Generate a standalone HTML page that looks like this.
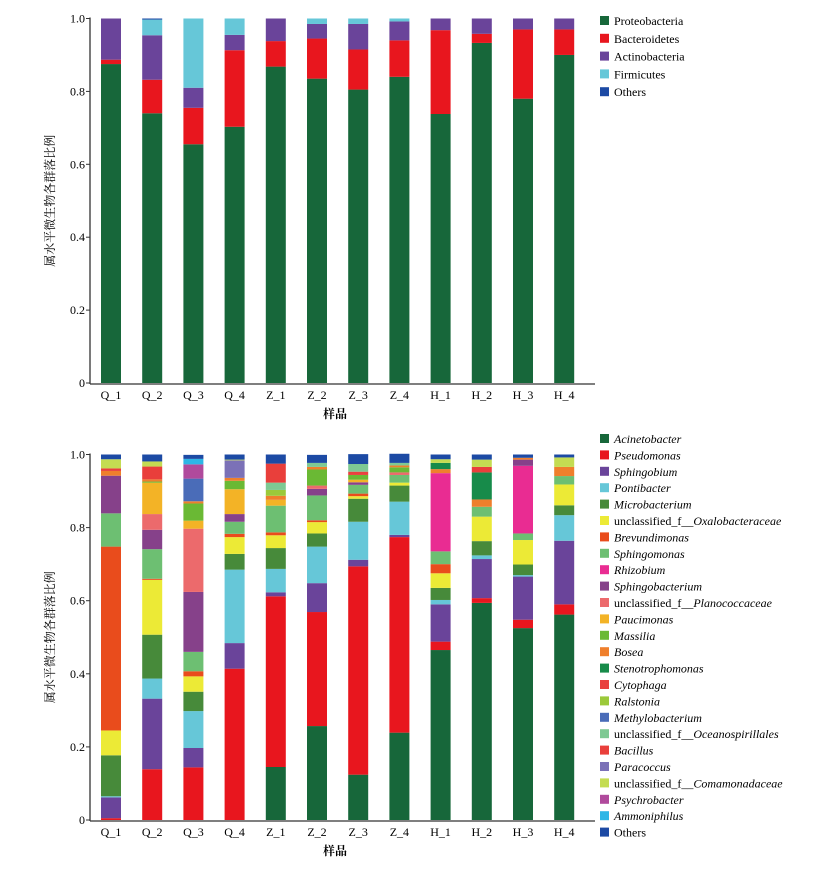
<!DOCTYPE html>
<html><head><meta charset="utf-8"><style>
body{margin:0;background:#fff;}
svg text{font-family:"Liberation Serif","Noto Serif CJK SC",serif;}
</style></head><body>
<svg id="c" width="832" height="869" xmlns="http://www.w3.org/2000/svg"></svg>
<script>
const samples=["Q_1","Q_2","Q_3","Q_4","Z_1","Z_2","Z_3","Z_4","H_1","H_2","H_3","H_4"];
const yTicks=[0,0.2,0.4,0.6,0.8,1.0];
const yTickLabels=["0","0.2","0.4","0.6","0.8","1.0"];
// Top chart (phylum)
const phyla=["Proteobacteria","Bacteroidetes","Actinobacteria","Firmicutes","Others"];
const phylaColors=["#17673a","#e8161e","#6a449a","#66c7d8","#1c4aa4"];
const proteobacteria=[.875,.74,.655,.703,.868,.835,.805,.84,.738,.933,.78,.90];
const bacteroidetes=[.012,.092,.1,.21,.07,.11,.11,.1,.23,.025,.19,.07];
const actinobacteria=[.113,.122,.055,.042,.062,.04,.07,.052,.032,.042,.03,.03];
const firmicutes=[0,.043,.19,.045,0,.015,.015,.008,0,0,0,0];
const phylaOthers=[0,.003,0,0,0,0,0,0,0,0,0,0];
const topSeries=[proteobacteria,bacteroidetes,actinobacteria,firmicutes,phylaOthers];
// Bottom chart (genus)
const genera=["Acinetobacter","Pseudomonas","Sphingobium","Pontibacter","Microbacterium","unclassified_f__Oxalobacteraceae","Brevundimonas","Sphingomonas","Rhizobium","Sphingobacterium","unclassified_f__Planococcaceae","Paucimonas","Massilia","Bosea","Stenotrophomonas","Cytophaga","Ralstonia","Methylobacterium","unclassified_f__Oceanospirillales","Bacillus","Paracoccus","unclassified_f__Comamonadaceae","Psychrobacter","Ammoniphilus","Others"];
const genusColors=["#17673a","#e8161e","#6a449a","#66c7d8","#478a3a","#ecea36","#e94c1c","#6dbf72","#e92c92","#86418a","#ec6a6c","#f3b326","#6ab934","#ef7f2c","#178b4a","#e9413f","#9bc93a","#4a6cb8","#7ec993","#e93f3b","#7b71b7","#c4dc52","#b04a9c","#2eb6e6","#1c4aa4"];
const acinetobacter=[0,0,0,0,.145,.257,.124,.239,.465,.594,.525,.562];
const pseudomonas=[.005,.139,.144,.414,.467,.312,.57,.535,.023,.013,.023,.028];
const sphingobium=[.057,.193,.053,.07,.011,.079,.018,.006,.102,.107,.118,.174];
const pontibacter=[.003,.055,.101,.201,.064,.1,.104,.091,.012,.01,.004,.07];
const microbacterium=[.112,.12,.053,.043,.057,.036,.063,.044,.033,.039,.029,.027];
const oxalobacteraceae=[.068,.15,.042,.046,.035,.031,.007,.008,.04,.067,.067,.057];
const brevundimonas=[.503,.003,.014,.009,.008,.005,.007,0,.025,0,0,0];
const sphingomonas=[.091,.081,.053,.033,.073,.068,.024,.021,.035,.027,.018,.023];
const rhizobium=[0,0,0,0,0,0,0,0,.214,0,.185,0];
const sphingobacterium=[.103,.053,.164,.021,0,.018,.007,0,0,0,.017,0];
const planococcaceae=[0,.043,.173,0,0,.009,0,.007,0,0,0,0];
const paucimonas=[0,.086,.022,.068,.016,0,.007,0,0,0,0,0];
const massilia=[0,.003,.047,.023,0,.044,.013,.014,0,0,0,0];
const bosea=[.013,.006,.006,.008,.011,.007,0,.005,.011,.02,.005,.025];
const stenotrophomonas=[0,0,0,0,0,0,0,0,.017,.074,0,0];
const cytophaga=[0,0,0,0,0,0,.009,0,0,0,0,0];
const ralstonia=[0,0,0,0,.016,0,0,0,0,0,0,0];
const methylobacterium=[0,0,.062,0,0,0,0,0,0,0,0,0];
const oceanospirillales=[0,0,0,0,.02,.011,.021,.007,0,0,0,0];
const bacillus=[.007,.035,0,0,.052,0,0,0,0,.015,0,0];
const paracoccus=[0,0,0,.048,0,0,0,0,0,0,0,0];
const comamonadaceae=[.025,.014,0,.002,0,0,0,0,.01,.02,0,.026];
const psychrobacter=[0,0,.039,0,0,0,0,0,0,0,0,0];
const ammoniphilus=[0,0,.015,0,0,0,0,0,0,0,0,0];
const genusOthers=[.013,.019,.011,.014,.025,.022,.027,.025,.013,.014,.009,.008];
const bottomSeries=[acinetobacter,pseudomonas,sphingobium,pontibacter,microbacterium,oxalobacteraceae,brevundimonas,sphingomonas,rhizobium,sphingobacterium,planococcaceae,paucimonas,massilia,bosea,stenotrophomonas,cytophaga,ralstonia,methylobacterium,oceanospirillales,bacillus,paracoccus,comamonadaceae,psychrobacter,ammoniphilus,genusOthers];

const NS="http://www.w3.org/2000/svg";
const svg=document.getElementById('c');
function mk(tag,attrs,parent){const e=document.createElementNS(NS,tag);for(const k in attrs)e.setAttribute(k,attrs[k]);(parent||svg).appendChild(e);return e;}
const xScale=i=>111+i*41.2;

function drawChart(top,bottom,barW,series,colors,names,legTop,legStep,italic,prefix){
  const g=mk('g',{});
  
  
  const yS=v=>bottom-v*(bottom-top);
  samples.forEach((s,i)=>{
    let cum=0;
    series.forEach((arr,k)=>{
      const v=arr[i]; if(v<=0){return;}
      const r=mk('rect',{x:xScale(i)-barW/2,y:yS(cum+v),width:barW,height:yS(cum)-yS(cum+v),fill:colors[k]},g);
      
      
      cum+=v;
    });
  });
  const ya=mk('line',{x1:90,y1:top-1,x2:90,y2:bottom+1,stroke:'#333','stroke-width':1.3},g);
  
  
  const xa=mk('line',{x1:90,y1:bottom+1,x2:595,y2:bottom+1,stroke:'#333','stroke-width':1.3},g);
  
  
  yTicks.forEach((t,j)=>{
    mk('line',{x1:86,y1:yS(t),x2:90,y2:yS(t),stroke:'#333'},g);
    const tx=mk('text',{x:85,y:yS(t)+4,'text-anchor':'end','font-size':12},g);
    tx.textContent=yTickLabels[j];
    
    
  });
  samples.forEach((s,i)=>{
    const tx=mk('text',{x:xScale(i),y:bottom+16,'text-anchor':'middle','font-size':12},g);
    tx.textContent=s;
    
    
  });
  const xt=mk('text',{x:335,y:bottom+35,'text-anchor':'middle','font-size':12,'font-weight':'bold'},g);
  xt.textContent='样品';
  
  
  const cy=(top+bottom)/2;
  const yt=mk('text',{x:54,y:cy,'text-anchor':'middle','font-size':12,transform:`rotate(-90 54 ${cy})`},g);
  yt.textContent='属水平微生物各群落比例';
  
  
  names.forEach((n,k)=>{
    const y=legTop+k*legStep;
    const lg=mk('g',{},g);
    
    
    mk('rect',{x:600,y:y-5,width:9,height:9,fill:colors[k]},lg);
    const tx=mk('text',{x:614,y:y+4,'font-size':12},lg);
    const m=n.match(/^(unclassified_f__)(.*)$/);
    if(italic&&m){
      const a=document.createElementNS(NS,'tspan');a.textContent=m[1];tx.appendChild(a);
      const b=document.createElementNS(NS,'tspan');b.textContent=m[2];b.setAttribute('font-style','italic');tx.appendChild(b);
    } else {
      tx.textContent=n;
      if(italic&&n!=='Others')tx.setAttribute('font-style','italic');
    }
  });
}
drawChart(18.5,383,20,topSeries,phylaColors,phyla,21,17.8,false,'phylum');
drawChart(454.5,820,20,bottomSeries,genusColors,genera,439,16.4,true,'genus');
</script>
</body></html>
